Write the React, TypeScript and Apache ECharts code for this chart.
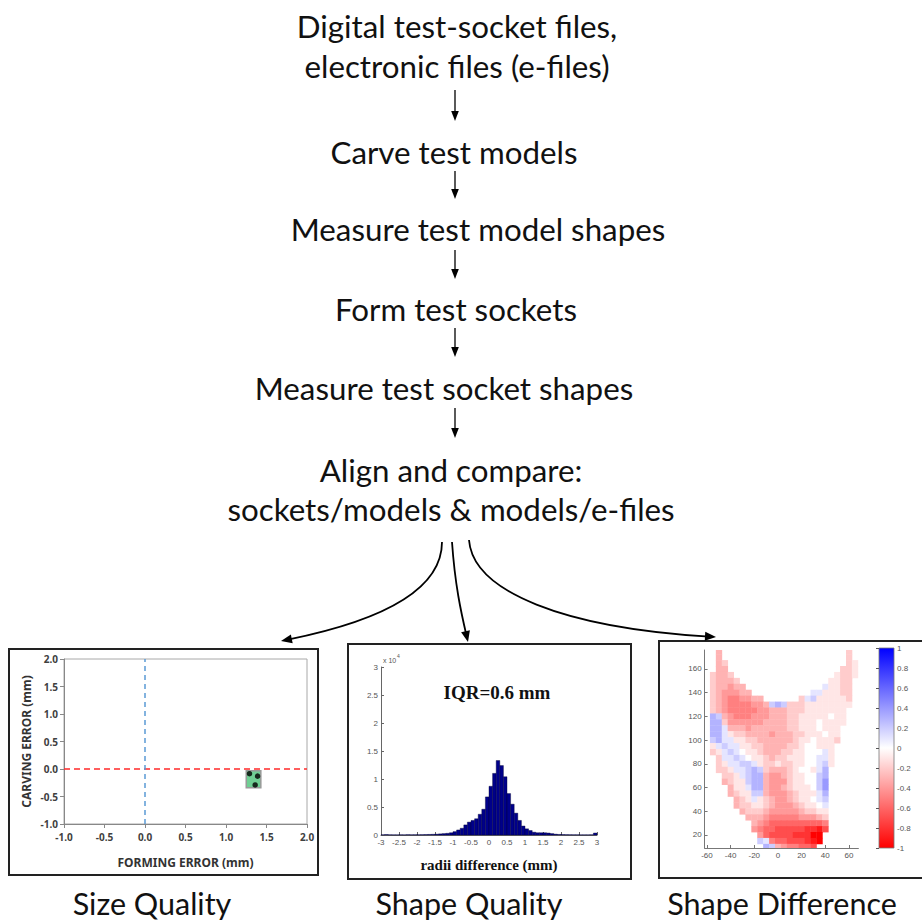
import React, { useEffect, useRef } from "react";
import * as echarts from "echarts";

// ---------------- Flowchart text ----------------
const FLOW_LINES = [
  "Digital test-socket files,",
  "electronic files (e-files)",
  "Carve test models",
  "Measure test model shapes",
  "Form test sockets",
  "Measure test socket shapes",
  "Align and compare:",
  "sockets/models & models/e-files",
];
const PANEL_TITLES = ["Size Quality", "Shape Quality", "Shape Difference"];

// ---------------- Size Quality (scatter) ----------------
const formingError = [1.29, 1.39, 1.36];
const carvingError = [-0.085, -0.13, -0.29];
const rangeBoxX = [1.25, 1.43];
const rangeBoxY = [-0.03, -0.34];

// ---------------- Shape Quality (histogram, counts x 10^4) ----------------
const histCenters = [
  -2.95, -2.85, -2.75, -2.65, -2.55, -2.45, -2.35, -2.25, -2.15, -2.05,
  -1.95, -1.85, -1.75, -1.65, -1.55, -1.45, -1.35, -1.25, -1.15, -1.05,
  -0.95, -0.85, -0.75, -0.65, -0.55, -0.45, -0.35, -0.25, -0.15, -0.05,
  0.05, 0.15, 0.25, 0.35, 0.45, 0.55, 0.65, 0.75, 0.85, 0.95,
  1.05, 1.15, 1.25, 1.35, 1.45, 1.55, 1.65, 1.75, 1.85, 1.95,
  2.05, 2.15, 2.25, 2.35, 2.45, 2.55, 2.65, 2.75, 2.85, 2.95,
];
const histCounts = [
  0.004, 0.008, 0.004, 0.003, 0.003, 0.004, 0.003, 0.006, 0.004, 0.005,
  0.005, 0.006, 0.008, 0.01, 0.012, 0.015, 0.02, 0.025, 0.03, 0.04,
  0.06, 0.09, 0.12, 0.18, 0.23, 0.26, 0.29, 0.37, 0.46, 0.68,
  0.87, 1.1, 1.33, 1.24, 1.04, 0.74, 0.55, 0.39, 0.26, 0.16,
  0.11, 0.08, 0.05, 0.04, 0.04, 0.04, 0.035, 0.025, 0.015, 0.01,
  0.008, 0.006, 0.005, 0.004, 0.004, 0.003, 0.003, 0.003, 0.004, 0.035,
];
const HIST_BIN = 0.1;
const IQR_LABEL = "IQR=0.6 mm";

// ---------------- Shape Difference (map of radial difference) ----------------
const heatX = [-60, -55, -50, -45, -40, -35, -30, -25, -20, -15, -10, -5, 0, 5, 10, 15, 20, 25, 30, 35, 40, 45, 50, 55, 60, 65];
const heatY = [175, 170, 165, 160, 155, 150, 145, 140, 135, 130, 125, 120, 115, 110, 105, 100, 95, 90, 85, 80, 75, 70, 65, 60, 55, 50, 45, 40, 35, 30, 25, 20, 15, 10];
// each row: [start column, level codes]
const heatRows: [number, string][][] = [
  [[2, "3"], [24, "2"]],
  [[2, "3"], [24, "2"]],
  [[2, "32"], [24, "21"]],
  [[2, "33"], [23, "221"]],
  [[1, "2332"], [22, "1221"]],
  [[1, "23332"], [21, "1122"]],
  [[1, "233433"], [20, "a1122"]],
  [[1, "2344433"], [18, "aa11122"]],
  [[1, "234554433"], [16, "2ab111112"]],
  [[1, "2345555443bcb22211111111"]],
  [[1, "23455555443332221111111"]],
  [[1, "cb345554443332211111011"]],
  [[1, "cc244444433332211101111"]],
  [[1, "cca3334333333221110111"]],
  [[1, "cca1223333433322111011"]],
  [[1, "bcaa112233333321101112"]],
  [[1, "1abaa1122333322100111"]],
  [[1, "21aba01123332211000a1"]],
  [[2, "2aaba011232211100aa1"]],
  [[2, "21aabba1221221100ab1"]],
  [[2, "221aabcb233321001ac"]],
  [[3, "221abcc344321100bc"]],
  [[3, "3211bcc344421100bd"]],
  [[4, "311acc344321110bd"]],
  [[4, "3211bb344432111ac"]],
  [[5, "321a1234432110ab"]],
  [[5, "322112344432110a"]],
  [[6, "322234444432211"]],
  [[7, "33345555544432"]],
  [[8, "3456666666665"]],
  [[8, "4566777778897"]],
  [[9, "467777888XX"]],
  [[9, "ba56677789X"]],
  [[10, "cb3455667"]],
];
const heatLevels: Record<string, number> = {
  "0": 0, "1": -0.1, "2": -0.2, "3": -0.3, "4": -0.4, "5": -0.5, "6": -0.6,
  "7": -0.7, "8": -0.8, "9": -0.9, X: -1, a: 0.1, b: 0.2, c: 0.3, d: 0.4,
};
const HEAT_CELL = 5;
const heatTicksX = [-60, -40, -20, 0, 20, 40, 60];
const heatTicksY = [20, 40, 60, 80, 100, 120, 140, 160];

const FONT = "Lato";

function arrowHead(tip: number[], from: number[], len = 11, half = 4.5) {
  const dx = tip[0] - from[0];
  const dy = tip[1] - from[1];
  const d = Math.hypot(dx, dy);
  const ux = dx / d, uy = dy / d;
  const bx = tip[0] - ux * len, by = tip[1] - uy * len;
  return {
    type: "polygon",
    shape: { points: [tip, [bx - uy * half, by + ux * half], [bx + uy * half, by - ux * half]] },
    style: { fill: "#000" },
    z: 100,
  };
}

function curvedArrow(p0: number[], p1: number[], p2: number[], tip: number[]) {
  const dx = tip[0] - p2[0], dy = tip[1] - p2[1];
  const d = Math.hypot(dx, dy);
  const end = [tip[0] - (dx / d) * 7, tip[1] - (dy / d) * 7];
  return [
    {
      type: "bezierCurve",
      shape: { x1: p0[0], y1: p0[1], cpx1: p1[0], cpy1: p1[1], cpx2: p2[0], cpy2: p2[1], x2: end[0], y2: end[1] },
      style: { stroke: "#000", lineWidth: 1.8, fill: null },
      z: 100,
    },
    arrowHead(tip, p2),
  ];
}

export default function App() {
  const ref = useRef<HTMLDivElement>(null);

  useEffect(() => {
    document.body.style.margin = "0";
    if (!ref.current) return;
    const chart = echarts.init(ref.current, null, { renderer: "svg" });

    const heatData: number[][] = [];
    heatRows.forEach((segs, r) => {
      segs.forEach(([start, codes]) => {
        for (let i = 0; i < codes.length; i++) {
          heatData.push([heatX[start + i], heatY[r], heatLevels[codes[i]]]);
        }
      });
    });

    const flowPos = [
      [457, 26], [457, 66], [454, 152], [478, 229], [456, 309], [444, 388], [451, 470], [451, 509],
    ];
    const vArrows = [[90, 121], [171, 199], [250, 279], [328, 357], [408, 438]];
    const graphics: any[] = [];
    FLOW_LINES.forEach((t, i) => {
      graphics.push({
        type: "text",
        x: flowPos[i][0],
        y: flowPos[i][1],
        style: { text: t, fontFamily: FONT, fontSize: 31.3, fill: "#111", align: "center", verticalAlign: "middle" },
      });
    });
    vArrows.forEach(([y0, y1]) => {
      graphics.push({ type: "line", shape: { x1: 455, y1: y0, x2: 455, y2: y1 - 6 }, style: { stroke: "#000", lineWidth: 1.3 } });
      graphics.push(arrowHead([455, y1], [455, y0], 10, 3.8));
    });
    graphics.push(...curvedArrow([442, 542], [442, 592], [375, 622], [281, 641]));
    graphics.push(...curvedArrow([452, 542], [455, 585], [461, 612], [468, 642]));
    graphics.push(...curvedArrow([469, 540], [473, 592], [565, 628], [716, 637]));

    const boxes = [
      [9, 649, 309, 226],
      [348, 644, 283, 235],
      [659, 641, 275, 237],
    ];
    boxes.forEach(([x, y, w, h]) => {
      graphics.push({ type: "rect", shape: { x, y, width: w, height: h }, style: { fill: "none", stroke: "#222", lineWidth: 2 }, z: 50 });
    });
    const titlePos = [[152, 903], [469, 903], [782, 903]];
    PANEL_TITLES.forEach((t, i) => {
      graphics.push({
        type: "text",
        x: titlePos[i][0],
        y: titlePos[i][1],
        style: { text: t, fontFamily: FONT, fontSize: 30.5, fill: "#111", align: "center", verticalAlign: "middle" },
      });
    });
    graphics.push({
      type: "text",
      x: 497,
      y: 692,
      style: { text: IQR_LABEL, fontFamily: "Liberation Serif", fontWeight: "bold", fontSize: 19, fill: "#111", align: "center", verticalAlign: "middle" },
    });
    graphics.push({
      type: "text",
      x: 383,
      y: 660,
      style: { text: "x 10", fontFamily: "Liberation Sans", fontSize: 7, fill: "#555", align: "left", verticalAlign: "middle" },
    });
    graphics.push({
      type: "text",
      x: 397,
      y: 656,
      style: { text: "4", fontFamily: "Liberation Sans", fontSize: 5, fill: "#555", align: "left", verticalAlign: "middle" },
    });

    const smallLabel = { fontFamily: "Liberation Sans", fontSize: 8, color: "#555" };
    const sizeLabel = { fontFamily: "Noto Sans", fontSize: 10, fontWeight: "bold", color: "#404040", formatter: (v: number) => v.toFixed(1) };

    const option: any = {
      animation: false,
      graphic: graphics,
      grid: [
        { left: 64, top: 659, width: 243, height: 165, show: true, borderColor: "#a8a8a8", borderWidth: 1 },
        { left: 381, top: 667, width: 216, height: 168 },
        { left: 704.6, top: 650, width: 153.8, height: 198 },
        {
          left: 879, top: 648, width: 15, height: 200, show: true, borderColor: "#777", borderWidth: 0.8,
          backgroundColor: {
            type: "linear", x: 0, y: 0, x2: 0, y2: 1,
            colorStops: [
              { offset: 0, color: "#0000ff" },
              { offset: 0.5, color: "#ffffff" },
              { offset: 1, color: "#ff0000" },
            ],
          },
        },
      ],
      xAxis: [
        {
          gridIndex: 0, type: "value", min: -1, max: 2, interval: 0.5,
          axisLine: { onZero: false, lineStyle: { color: "#888" } },
          axisTick: { length: 4, lineStyle: { color: "#888" } },
          splitLine: { show: false },
          axisLabel: { ...sizeLabel, margin: 8 },
          name: "FORMING ERROR (mm)", nameLocation: "middle", nameGap: 32,
          nameTextStyle: { fontFamily: "Noto Sans", fontWeight: "bold", fontSize: 12, color: "#333" },
        },
        {
          gridIndex: 1, type: "value", min: -3, max: 3, interval: 0.5,
          axisLine: { onZero: false, lineStyle: { color: "#666" } },
          axisTick: { inside: true, length: 3, lineStyle: { color: "#666" } },
          splitLine: { show: false },
          axisLabel: { ...smallLabel, margin: 3 },
          name: "radii difference (mm)", nameLocation: "middle", nameGap: 22,
          nameTextStyle: { fontFamily: "Liberation Serif", fontWeight: "bold", fontSize: 15, color: "#111" },
        },
        {
          gridIndex: 2, type: "value", min: -62, max: 68,
          axisLine: { onZero: false, lineStyle: { color: "#777" } },
          axisTick: { inside: true, length: 3, lineStyle: { color: "#777" }, customValues: heatTicksX },
          splitLine: { show: false },
          axisLabel: { ...smallLabel, margin: 3, customValues: heatTicksX },
        },
        { gridIndex: 3, type: "value", show: false, min: 0, max: 1 },
      ],
      yAxis: [
        {
          gridIndex: 0, type: "value", min: -1, max: 2, interval: 0.5,
          axisLine: { onZero: false, lineStyle: { color: "#888" } },
          axisTick: { length: 4, lineStyle: { color: "#888" } },
          splitLine: { show: false },
          axisLabel: { ...sizeLabel, margin: 6 },
          name: "CARVING ERROR (mm)", nameLocation: "middle", nameGap: 32, nameRotate: 90,
          nameTextStyle: { fontFamily: "Noto Sans", fontWeight: "bold", fontSize: 12, color: "#333" },
        },
        {
          gridIndex: 1, type: "value", min: 0, max: 3, interval: 0.5,
          axisLine: { onZero: false, lineStyle: { color: "#666" } },
          axisTick: { inside: true, length: 3, lineStyle: { color: "#666" } },
          splitLine: { show: false },
          axisLabel: { ...smallLabel, margin: 3 },
        },
        {
          gridIndex: 2, type: "value", min: 9, max: 176,
          axisLine: { onZero: false, lineStyle: { color: "#777" } },
          axisTick: { inside: true, length: 3, lineStyle: { color: "#777" }, customValues: heatTicksY },
          splitLine: { show: false },
          axisLabel: { ...smallLabel, margin: 3, customValues: heatTicksY },
        },
        {
          gridIndex: 3, type: "value", position: "right", min: -1, max: 1, interval: 0.2,
          axisLine: { show: false },
          axisTick: { inside: true, length: 3, lineStyle: { color: "#555" } },
          splitLine: { show: false },
          axisLabel: { ...smallLabel, margin: 3 },
        },
      ],
      visualMap: [
        {
          type: "continuous", show: false, seriesIndex: 3, dimension: 2, min: -1, max: 1,
          inRange: { color: ["#ff0000", "#ffffff", "#0000ff"] },
        },
      ],
      series: [
        {
          type: "custom",
          xAxisIndex: 0, yAxisIndex: 0,
          data: [[rangeBoxX[0], rangeBoxY[0], rangeBoxX[1], rangeBoxY[1]]],
          encode: { x: [0, 2], y: [1, 3] },
          renderItem: (params: any, api: any) => {
            const a = api.coord([api.value(0), api.value(1)]);
            const b = api.coord([api.value(2), api.value(3)]);
            return {
              type: "rect",
              shape: { x: a[0], y: a[1], width: b[0] - a[0], height: b[1] - a[1] },
              style: { fill: "#6fcf93", stroke: "#9a9a9a", lineWidth: 1.5 },
            };
          },
          markLine: {
            silent: true, symbol: ["none", "none"], label: { show: false },
            data: [
              { yAxis: 0, lineStyle: { color: "#ff2a2a", type: [6, 4], width: 1.5 } },
              { xAxis: 0, lineStyle: { color: "#5b9bd5", type: [5, 4], width: 1.5 } },
            ],
          },
        },
        {
          type: "scatter",
          xAxisIndex: 0, yAxisIndex: 0,
          data: formingError.map((x, i) => [x, carvingError[i]]),
          symbolSize: 5.5,
          itemStyle: { color: "#000" },
          z: 5,
        },
        {
          type: "custom",
          xAxisIndex: 1, yAxisIndex: 1,
          data: histCenters.map((c, i) => [c, histCounts[i]]),
          renderItem: (params: any, api: any) => {
            const c = api.value(0), v = api.value(1);
            const a = api.coord([c - HIST_BIN / 2, v]);
            const b = api.coord([c + HIST_BIN / 2, 0]);
            return {
              type: "rect",
              shape: { x: a[0], y: a[1], width: b[0] - a[0], height: b[1] - a[1] },
              style: { fill: "#00008a", stroke: "#000033", lineWidth: 0.4 },
            };
          },
        },
        {
          type: "custom",
          xAxisIndex: 2, yAxisIndex: 2,
          data: heatData,
          renderItem: (params: any, api: any) => {
            const x = api.value(0), y = api.value(1);
            const a = api.coord([x - HEAT_CELL / 2, y + HEAT_CELL / 2]);
            const b = api.coord([x + HEAT_CELL / 2, y - HEAT_CELL / 2]);
            const cs = params.coordSys;
            const rect = echarts.graphic.clipRectByRect(
              { x: a[0], y: a[1], width: b[0] - a[0] + 0.4, height: b[1] - a[1] + 0.4 },
              { x: cs.x, y: cs.y, width: cs.width, height: cs.height }
            );
            if (!rect) return null;
            return { type: "rect", shape: rect, style: { fill: api.visual("color") } };
          },
        },
      ],
    };

    chart.setOption(option);
    return () => chart.dispose();
  }, []);

  return <div ref={ref} style={{ width: 922, height: 923 }} />;
}
